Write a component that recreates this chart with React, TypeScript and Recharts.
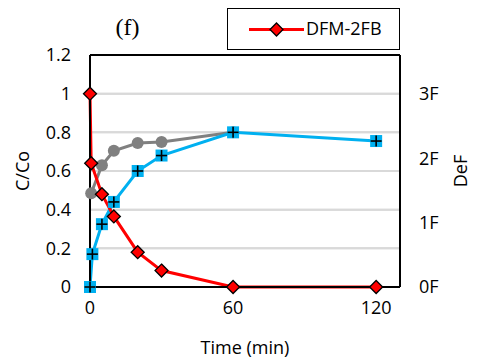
import React from 'react';
import { ComposedChart, Line, XAxis, YAxis, ReferenceLine, CartesianGrid } from 'recharts';

const redTimes = [0, 0.5, 5, 10, 20, 30, 60, 120];
const redValues = [1, 0.64, 0.48, 0.365, 0.18, 0.085, 0, 0];
const blueTimes = [0, 1, 5, 10, 20, 30, 60, 120];
const blueValues = [0, 0.17, 0.325, 0.44, 0.6, 0.68, 0.8, 0.755];
const grayTimes = [0.5, 5, 10, 20, 30, 60];
const grayValues = [0.485, 0.63, 0.705, 0.745, 0.75, 0.8];
const xTicks = [0, 60, 120];
const leftTicks = [0, 0.2, 0.4, 0.6, 0.8, 1, 1.2];
const rightTicks = [0, 1, 2, 3];
const rightTickLabels = ['0F', '1F', '2F', '3F'];
const legendLabel = 'DFM-2FB';
const title = '(f)';

const toRows = (ts: number[], vs: number[]) => ts.map((t, i) => ({ t, v: vs[i] }));
const redData = toRows(redTimes, redValues);
const blueData = toRows(blueTimes, blueValues);
const grayData = toRows(grayTimes, grayValues);

const FONT = '"Open Sans", sans-serif';

const Diamond = (p: any) => {
  const { cx, cy, index } = p;
  if (cx == null || cy == null) return <g key={`d${index}`} />;
  const r = 6.5;
  return (
    <path
      key={`d${index}`}
      d={`M${cx},${cy - r}L${cx + r},${cy}L${cx},${cy + r}L${cx - r},${cy}Z`}
      fill="#ff0000"
      stroke="#000"
      strokeWidth={1.3}
    />
  );
};

const PlusSquare = (p: any) => {
  const { cx, cy, index } = p;
  if (cx == null || cy == null) return <g key={`s${index}`} />;
  return (
    <g key={`s${index}`}>
      <rect x={cx - 6} y={cy - 6} width={12} height={12} fill="#00b0f0" />
      <line x1={cx - 5.5} y1={cy} x2={cx + 5.5} y2={cy} stroke="#000" strokeWidth={1.6} />
      <line x1={cx} y1={cy - 5.5} x2={cx} y2={cy + 5.5} stroke="#000" strokeWidth={1.6} />
    </g>
  );
};

const GrayDot = (p: any) => {
  const { cx, cy, index } = p;
  if (cx == null || cy == null) return <g key={`c${index}`} />;
  return <circle key={`c${index}`} cx={cx} cy={cy} r={6} fill="#808080" />;
};

export default function App() {
  return (
    <div style={{ position: 'absolute', left: 0, top: 0, width: 477, height: 361, background: '#fff' }}>
      <ComposedChart
        width={477}
        height={361}
        margin={{ top: 55, right: 27, bottom: 44, left: 30 }}
      >
        <CartesianGrid
          vertical={false}
          horizontal={true}
          stroke="#d9d9d9"
          strokeWidth={2}
          strokeOpacity={1}
          yAxisId="left"
          syncWithTicks
        />
        <XAxis
          xAxisId={0}
          dataKey="t"
          type="number"
          domain={[0, 130]}
          ticks={xTicks}
          height={30}
          axisLine={{ stroke: '#000', strokeWidth: 2 }}
          tickLine={false}
          tickSize={6}
          tickMargin={8}
          tick={{ fill: '#000', fontSize: 18, fontFamily: FONT }}
          allowDuplicatedCategory={false}
          label={{ value: 'Time (min)', position: 'center', dy: 46, fill: '#000', fontSize: 18, fontFamily: FONT }}
        />
        <YAxis
          yAxisId="left"
          orientation="left"
          type="number"
          domain={[0, 1.2]}
          ticks={leftTicks}
          width={60}
          axisLine={{ stroke: '#000', strokeWidth: 2 }}
          tickLine={false}
          tickSize={6}
          tickMargin={13}
          tick={{ fill: '#000', fontSize: 18, fontFamily: FONT }}
          label={{ value: 'C/Co', angle: -90, position: 'center', dx: -37, fill: '#000', fontSize: 18, fontFamily: FONT }}
        />
        <YAxis
          yAxisId="right"
          orientation="right"
          type="number"
          domain={[0, 3.6]}
          ticks={rightTicks}
          tickFormatter={(v: number) => rightTickLabels[rightTicks.indexOf(v)] ?? ''}
          width={50}
          axisLine={{ stroke: '#000', strokeWidth: 2 }}
          tickLine={false}
          tickSize={6}
          tickMargin={13}
          tick={{ fill: '#000', fontSize: 18, fontFamily: FONT }}
          label={{ value: 'DeF', angle: -90, position: 'center', dx: 36, fill: '#000', fontSize: 18, fontFamily: FONT }}
        />
        <ReferenceLine yAxisId="left" xAxisId={0} y={0.2} stroke="#d9d9d9" strokeWidth={2} />
        <ReferenceLine yAxisId="left" xAxisId={0} y={0.4} stroke="#d9d9d9" strokeWidth={2} />
        <ReferenceLine yAxisId="left" xAxisId={0} y={0.6} stroke="#d9d9d9" strokeWidth={2} />
        <ReferenceLine yAxisId="left" xAxisId={0} y={0.8} stroke="#d9d9d9" strokeWidth={2} />
        <ReferenceLine yAxisId="left" xAxisId={0} y={1} stroke="#d9d9d9" strokeWidth={2} />
        <ReferenceLine yAxisId="left" xAxisId={0} y={1.2} stroke="#000" strokeWidth={2} />
        <Line
          yAxisId="right"
          xAxisId={0}
          data={grayData}
          dataKey="v"
          type="linear"
          stroke="none"
          strokeWidth={0}
          dot={false}
          activeDot={false}
          legendType="none"
          isAnimationActive={false}
        />
        <Line
          yAxisId="left"
          xAxisId={0}
          data={grayData}
          dataKey="v"
          type="linear"
          stroke="#808080"
          strokeWidth={3}
          dot={GrayDot}
          activeDot={false}
          isAnimationActive={false}
        />
        <Line
          yAxisId="left"
          xAxisId={0}
          data={blueData}
          dataKey="v"
          type="linear"
          stroke="#00b0f0"
          strokeWidth={3}
          dot={PlusSquare}
          activeDot={false}
          isAnimationActive={false}
        />
        <Line
          yAxisId="left"
          xAxisId={0}
          data={redData}
          dataKey="v"
          type="linear"
          stroke="#ff0000"
          strokeWidth={3}
          dot={Diamond}
          activeDot={false}
          isAnimationActive={false}
        />
      </ComposedChart>
      <div
        style={{
          position: 'absolute',
          left: 100,
          top: 10,
          width: 55,
          height: 34,
          textAlign: 'center',
          fontFamily: '"Liberation Serif", serif',
          fontSize: 24,
          lineHeight: '34px',
          color: '#000',
        }}
      >
        {title}
      </div>
      <div
        style={{
          position: 'absolute',
          left: 227,
          top: 8,
          width: 173,
          height: 42,
          boxSizing: 'border-box',
          border: '1.5px solid #000',
          background: '#fff',
        }}
      >
        <svg width={80} height={42} style={{ position: 'absolute', left: 19, top: -1.5 }}>
          <line x1={2} y1={21.5} x2={57} y2={21.5} stroke="#ff0000" strokeWidth={3} />
          <path d="M29.5,15L36,21.5L29.5,28L23,21.5Z" fill="#ff0000" stroke="#000" strokeWidth={1.3} />
        </svg>
        <div
          style={{
            position: 'absolute',
            left: 78,
            top: 0,
            height: 39,
            lineHeight: '39px',
            fontFamily: FONT,
            fontSize: 18,
            color: '#000',
            whiteSpace: 'nowrap',
          }}
        >
          {legendLabel}
        </div>
      </div>
    </div>
  );
}
